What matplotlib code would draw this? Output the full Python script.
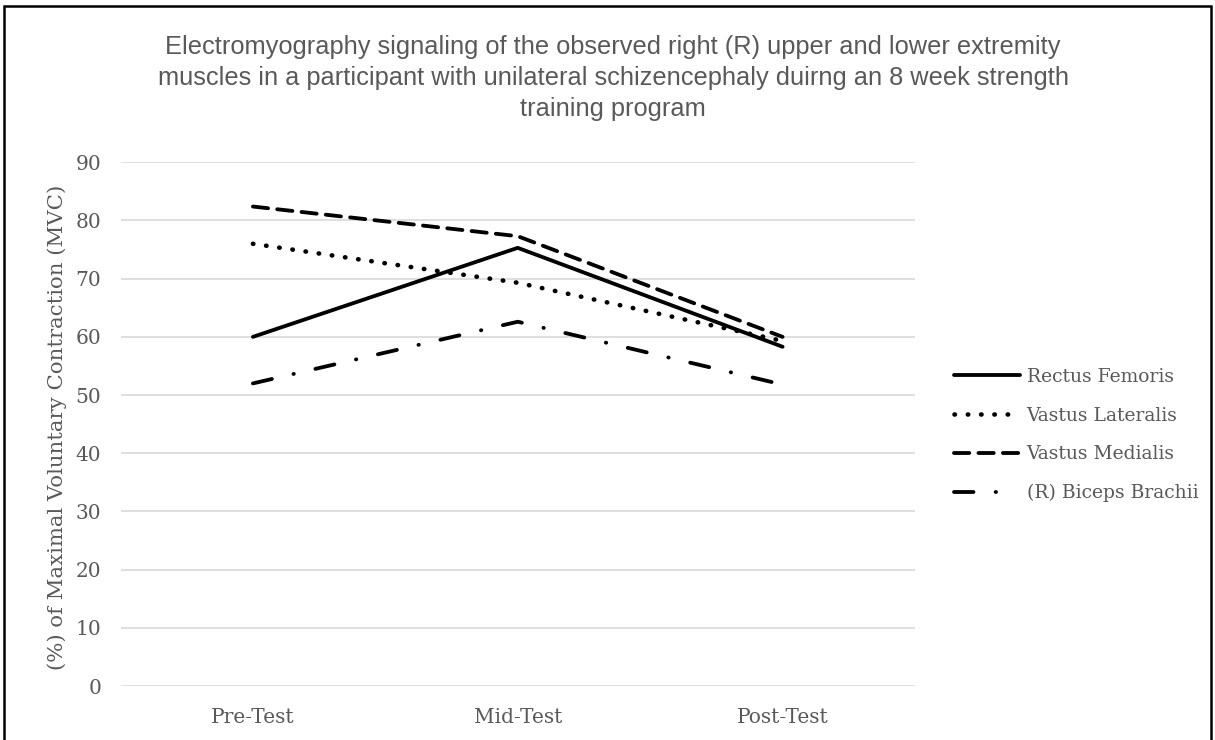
import matplotlib.pyplot as plt
from matplotlib.lines import Line2D
from matplotlib.patches import Rectangle

categories = ['Pre-Test', 'Mid-Test', 'Post-Test']
rectus_femoris = [60.0, 75.3, 58.3]
vastus_lateralis = [76.0, 69.3, 59.3]
vastus_medialis = [82.4, 77.3, 60.0]
biceps_brachii = [52.0, 62.6, 51.8]

series_names = ['Rectus Femoris', 'Vastus Lateralis', 'Vastus Medialis', '(R) Biceps Brachii']
title_lines = ['Electromyography signaling of the observed right (R) upper and lower extremity',
               'muscles in a participant with unilateral schizencephaly duirng an 8 week strength',
               'training program']
ylabel = '(%) of Maximal Voluntary Contraction (MVC)'

W, H = 1215, 740
TXT = '#595959'
SERIF = ['DejaVu Serif']
SANS = ['Liberation Sans', 'DejaVu Sans']

fig = plt.figure(figsize=(W / 100, H / 100), dpi=100)
ax = fig.add_axes([120.5 / W, 1 - 686 / H, (915 - 120.5) / W, (686 - 162.3) / H])

x = range(len(categories))
# (linestyle, linewidth) per series
styles = [
    ('-', 2.75),
    ((0, (0.1, 2.8)), 3.3),
    ((0, (4.0, 2.4)), 2.75),
    ((0, (5.1, 5.8, 0.1, 5.8)), 2.75),
]
# legend samples: same looks, but the dash-dot ends on its dot like the original
legend_styles = styles[:3] + [((0, (5.1, 5.8, 0.1, 9.0)), 2.75)]

handles = []
for vals, name, (ls, lw), (lls, llw) in zip(
        [rectus_femoris, vastus_lateralis, vastus_medialis, biceps_brachii],
        series_names, styles, legend_styles):
    ax.plot(x, vals, color='black', lw=lw, linestyle=ls, dash_capstyle='round',
            solid_capstyle='round')
    handles.append(Line2D([], [], color='black', lw=llw, linestyle=lls,
                          dash_capstyle='round', solid_capstyle='round', label=name))

ax.set_xlim(-0.5, 2.5)
ax.set_ylim(0, 90)
ax.set_yticks(range(0, 91, 10))
ax.set_xticks(list(x))
ax.set_xticklabels(categories)
ax.grid(axis='y', color='#d9d9d9', lw=1.2)
ax.set_axisbelow(True)
for s in ax.spines.values():
    s.set_visible(False)
ax.tick_params(axis='both', length=0, labelsize=14.5, labelcolor=TXT)
ax.tick_params(axis='x', pad=16)
ax.tick_params(axis='y', pad=14)
for lab in ax.get_xticklabels() + ax.get_yticklabels():
    lab.set_family(SERIF)

for line, ypx in zip(title_lines, [47, 78, 109]):
    fig.text(613 / W, 1 - ypx / H, line, ha='center', va='center', fontsize=18.3,
             color=TXT, family=SANS)
fig.text(57 / W, 1 - 427 / H, ylabel, ha='center', va='center', rotation=90,
         fontsize=15.3, color=TXT, family=SERIF)

leg = ax.legend(handles=handles, loc='center left', bbox_to_anchor=(946 / W, 1 - 435 / H),
                bbox_transform=fig.transFigure, frameon=False,
                prop={'family': SERIF, 'size': 13.5}, handlelength=3.55,
                handletextpad=0.35, labelspacing=1.1, borderaxespad=0)
for t in leg.get_texts():
    t.set_color(TXT)

fig.patches.append(Rectangle((4 / W, -0.05), (1211 - 4) / W, 1.05 - 6 / H,
                             transform=fig.transFigure, fill=False,
                             edgecolor='black', lw=1.8))

fig.savefig('out.png', dpi=100)
